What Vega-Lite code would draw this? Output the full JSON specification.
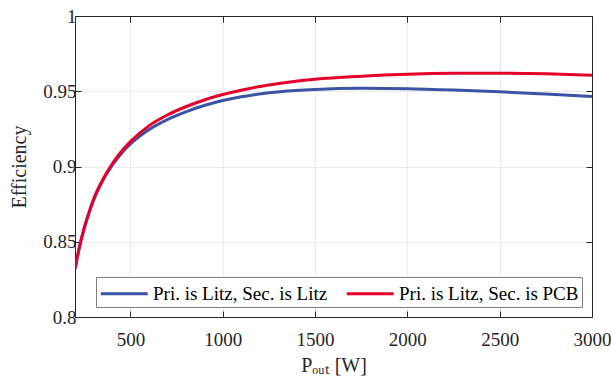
{
  "$schema": "https://vega.github.io/schema/vega-lite/v6.json",
  "width": 517,
  "height": 301,
  "autosize": {"type": "none"},
  "padding": {"left": 75, "top": 16, "right": 19, "bottom": 64},
  "background": "white",
  "config": {
    "font": "Liberation Serif, Times New Roman, serif",
    "view": {"stroke": "#262626", "strokeWidth": 1},
    "axis": {
      "domainColor": "#262626",
      "tickColor": "#262626",
      "labelColor": "#262626",
      "titleColor": "#262626",
      "labelFont": "Liberation Serif, Times New Roman, serif",
      "titleFont": "Liberation Serif, Times New Roman, serif",
      "labelFontSize": 19,
      "titleFontSize": 20,
      "titleFontWeight": "normal",
      "gridColor": "#ebebeb",
      "gridWidth": 1,
      "tickSize": -6,
      "labelFlush": false
    },
    "legend": {
      "labelFont": "Liberation Serif, Times New Roman, serif"
    }
  },
  "data": {
    "values": [
      {"P": 200, "eff": 0.832, "series": "Pri. is Litz, Sec. is Litz"},
      {"P": 225, "eff": 0.847, "series": "Pri. is Litz, Sec. is Litz"},
      {"P": 250, "eff": 0.859, "series": "Pri. is Litz, Sec. is Litz"},
      {"P": 275, "eff": 0.869, "series": "Pri. is Litz, Sec. is Litz"},
      {"P": 300, "eff": 0.8775, "series": "Pri. is Litz, Sec. is Litz"},
      {"P": 350, "eff": 0.8905, "series": "Pri. is Litz, Sec. is Litz"},
      {"P": 400, "eff": 0.9005, "series": "Pri. is Litz, Sec. is Litz"},
      {"P": 450, "eff": 0.9085, "series": "Pri. is Litz, Sec. is Litz"},
      {"P": 500, "eff": 0.915, "series": "Pri. is Litz, Sec. is Litz"},
      {"P": 600, "eff": 0.9245, "series": "Pri. is Litz, Sec. is Litz"},
      {"P": 700, "eff": 0.9312, "series": "Pri. is Litz, Sec. is Litz"},
      {"P": 800, "eff": 0.9363, "series": "Pri. is Litz, Sec. is Litz"},
      {"P": 900, "eff": 0.9405, "series": "Pri. is Litz, Sec. is Litz"},
      {"P": 1000, "eff": 0.9438, "series": "Pri. is Litz, Sec. is Litz"},
      {"P": 1100, "eff": 0.9463, "series": "Pri. is Litz, Sec. is Litz"},
      {"P": 1250, "eff": 0.949, "series": "Pri. is Litz, Sec. is Litz"},
      {"P": 1500, "eff": 0.9512, "series": "Pri. is Litz, Sec. is Litz"},
      {"P": 1750, "eff": 0.952, "series": "Pri. is Litz, Sec. is Litz"},
      {"P": 2000, "eff": 0.9517, "series": "Pri. is Litz, Sec. is Litz"},
      {"P": 2250, "eff": 0.9508, "series": "Pri. is Litz, Sec. is Litz"},
      {"P": 2500, "eff": 0.9496, "series": "Pri. is Litz, Sec. is Litz"},
      {"P": 2750, "eff": 0.9481, "series": "Pri. is Litz, Sec. is Litz"},
      {"P": 3000, "eff": 0.9465, "series": "Pri. is Litz, Sec. is Litz"},
      {"P": 200, "eff": 0.832, "series": "Pri. is Litz, Sec. is PCB"},
      {"P": 225, "eff": 0.847, "series": "Pri. is Litz, Sec. is PCB"},
      {"P": 250, "eff": 0.859, "series": "Pri. is Litz, Sec. is PCB"},
      {"P": 275, "eff": 0.869, "series": "Pri. is Litz, Sec. is PCB"},
      {"P": 300, "eff": 0.878, "series": "Pri. is Litz, Sec. is PCB"},
      {"P": 350, "eff": 0.8912, "series": "Pri. is Litz, Sec. is PCB"},
      {"P": 400, "eff": 0.9015, "series": "Pri. is Litz, Sec. is PCB"},
      {"P": 450, "eff": 0.9098, "series": "Pri. is Litz, Sec. is PCB"},
      {"P": 500, "eff": 0.9165, "series": "Pri. is Litz, Sec. is PCB"},
      {"P": 600, "eff": 0.927, "series": "Pri. is Litz, Sec. is PCB"},
      {"P": 700, "eff": 0.9342, "series": "Pri. is Litz, Sec. is PCB"},
      {"P": 800, "eff": 0.9397, "series": "Pri. is Litz, Sec. is PCB"},
      {"P": 900, "eff": 0.9442, "series": "Pri. is Litz, Sec. is PCB"},
      {"P": 1000, "eff": 0.9478, "series": "Pri. is Litz, Sec. is PCB"},
      {"P": 1100, "eff": 0.9507, "series": "Pri. is Litz, Sec. is PCB"},
      {"P": 1250, "eff": 0.9542, "series": "Pri. is Litz, Sec. is PCB"},
      {"P": 1500, "eff": 0.958, "series": "Pri. is Litz, Sec. is PCB"},
      {"P": 1750, "eff": 0.96, "series": "Pri. is Litz, Sec. is PCB"},
      {"P": 2000, "eff": 0.9613, "series": "Pri. is Litz, Sec. is PCB"},
      {"P": 2250, "eff": 0.9619, "series": "Pri. is Litz, Sec. is PCB"},
      {"P": 2500, "eff": 0.962, "series": "Pri. is Litz, Sec. is PCB"},
      {"P": 2750, "eff": 0.9616, "series": "Pri. is Litz, Sec. is PCB"},
      {"P": 3000, "eff": 0.9607, "series": "Pri. is Litz, Sec. is PCB"}
    ]
  },
  "layer": [
    {
      "mark": {"type": "line", "strokeWidth": 3, "interpolate": "monotone", "clip": true},
      "encoding": {
        "x": {
          "field": "P", "type": "quantitative",
          "scale": {"domain": [200, 3000], "nice": false, "zero": false},
          "axis": {"orient": "bottom", "values": [500, 1000, 1500, 2000, 2500, 3000], "format": "d", "title": "Pₒᵤₜ [W]", "labelPadding": 19, "titlePadding": 6}
        },
        "y": {
          "field": "eff", "type": "quantitative",
          "scale": {"domain": [0.8, 1], "nice": false, "zero": false},
          "axis": {"orient": "left", "values": [0.8, 0.85, 0.9, 0.95, 1], "format": "~g", "title": "Efficiency", "labelPadding": 5, "titlePadding": 13}
        },
        "color": {
          "field": "series", "type": "nominal",
          "scale": {"domain": ["Pri. is Litz, Sec. is Litz", "Pri. is Litz, Sec. is PCB"], "range": ["#3a53a4", "#e4002b"]},
          "legend": {
            "orient": "none", "legendX": 21, "legendY": 261,
            "direction": "horizontal", "title": null,
            "symbolType": "M-1,0H3", "symbolStrokeWidth": 3, "symbolSize": 552,
            "labelFontSize": 19, "labelColor": "#000000", "labelLimit": 400,
            "labelOffset": 27, "columnPadding": 12,
            "strokeColor": "#808080", "fillColor": "white", "padding": 3
          }
        }
      }
    },
    {
      "mark": {"type": "line", "opacity": 0},
      "encoding": {
        "x": {
          "field": "P", "type": "quantitative",
          "scale": {"domain": [200, 3000], "nice": false, "zero": false},
          "axis": {"orient": "top", "values": [500, 1000, 1500, 2000, 2500, 3000], "labels": false, "title": null, "grid": false}
        },
        "y": {
          "field": "eff", "type": "quantitative",
          "scale": {"domain": [0.8, 1], "nice": false, "zero": false},
          "axis": {"orient": "right", "values": [0.8, 0.85, 0.9, 0.95, 1], "labels": false, "title": null, "grid": false}
        },
        "detail": {"field": "series", "type": "nominal"}
      }
    }
  ],
  "resolve": {"axis": {"x": "independent", "y": "independent"}}
}
